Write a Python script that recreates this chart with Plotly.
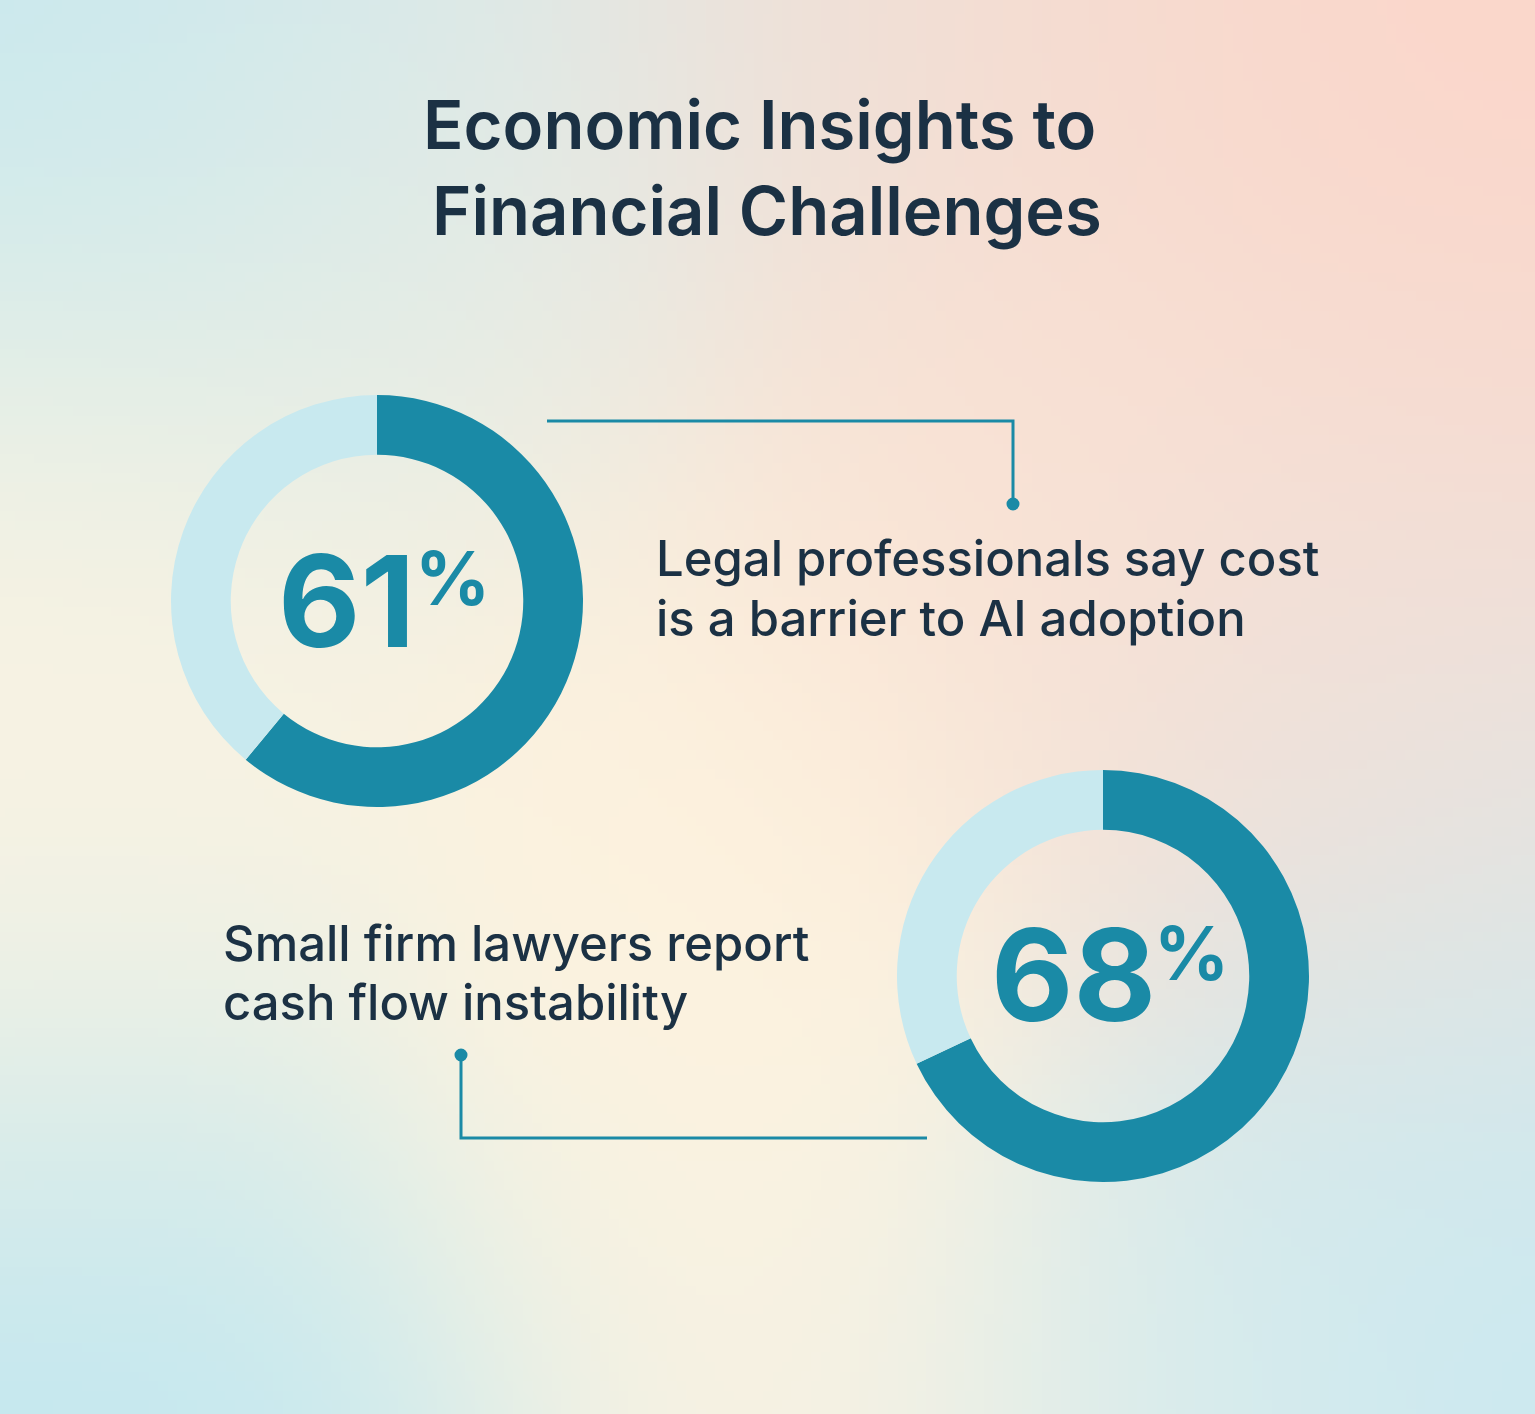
import base64
import struct
import zlib

import numpy as np
import plotly.graph_objects as go

W, H = 1535, 1414

# chart content
title_lines = ["Economic Insights to", "Financial Challenges"]
share_values = [61, 68]
share_labels = ["61", "68"]
caption_lines = [
    ["Legal professionals say cost", "is a barrier to AI adoption"],
    ["Small firm lawyers report", "cash flow instability"],
]

DARK = "#1a8aa6"
LIGHT = "#c8e9ef"
INK = "#1b3144"
FONT = "Inter"

# soft background blobs: (x px, y px, rgb)
bg_points = [
    (0, 0, (196, 233, 240)),
    (0, 250, (206, 234, 236)),
    (200, 0, (204, 233, 238)),
    (400, 0, (222, 234, 232)),
    (400, 300, (236, 238, 228)),
    (0, 480, (244, 242, 228)),
    (0, 650, (253, 244, 225)),
    (0, 820, (252, 244, 226)),
    (0, 1000, (242, 242, 230)),
    (0, 1200, (205, 233, 236)),
    (0, 1414, (186, 229, 242)),
    (250, 1414, (200, 234, 240)),
    (770, 1414, (250, 242, 226)),
    (600, 1100, (253, 244, 224)),
    (1200, 1414, (218, 236, 236)),
    (1535, 1414, (200, 233, 242)),
    (1535, 1100, (208, 233, 238)),
    (1535, 800, (232, 228, 224)),
    (1535, 400, (248, 219, 208)),
    (1535, 0, (252, 214, 202)),
    (1100, 0, (248, 218, 206)),
    (800, 0, (238, 226, 218)),
    (1000, 500, (250, 226, 212)),
    (700, 800, (253, 242, 222)),
    (1300, 700, (242, 224, 216)),
]


def png_uri(img):
    ny, nx, _ = img.shape
    raw = b"".join(b"\x00" + img[r].tobytes() for r in range(ny))

    def chunk(tag, data):
        body = tag + data
        return struct.pack(">I", len(data)) + body + struct.pack(">I", zlib.crc32(body) & 0xFFFFFFFF)

    png = (b"\x89PNG\r\n\x1a\n"
           + chunk(b"IHDR", struct.pack(">IIBBBBB", nx, ny, 8, 2, 0, 0, 0))
           + chunk(b"IDAT", zlib.compress(raw, 9))
           + chunk(b"IEND", b""))
    return "data:image/png;base64," + base64.b64encode(png).decode()


def background(nx=160, ny=148, sigma=300.0):
    xs = (np.arange(nx) + 0.5) * W / nx
    ys = (np.arange(ny) + 0.5) * H / ny
    X, Y = np.meshgrid(xs, ys)
    acc = np.zeros((ny, nx, 3))
    wsum = np.zeros((ny, nx))
    for px, py, c in bg_points:
        w = np.exp(-((X - px) ** 2 + (Y - py) ** 2) / sigma ** 2)
        acc += w[..., None] * np.array(c, dtype=float)
        wsum += w
    img = np.clip(acc / wsum[..., None], 0, 255).astype(np.uint8)
    return png_uri(img)


def px(x):
    return x / W


def py(y):
    return 1 - y / H


R = 206
centers = [(377, 601), (1103, 976)]

fig = go.Figure()
for (cx, cy), v in zip(centers, share_values):
    fig.add_trace(go.Pie(
        values=[v, 100 - v], hole=0.71, sort=False, direction="clockwise", rotation=0,
        marker=dict(colors=[DARK, LIGHT], line=dict(width=0)),
        textinfo="none", hoverinfo="skip", showlegend=False,
        domain=dict(x=[px(cx - R), px(cx + R)], y=[py(cy + R), py(cy - R)]),
    ))

ann = []


def text(x, y, s, size, weight, color=INK, anchor="left"):
    ann.append(dict(x=px(x), y=py(y), xref="paper", yref="paper", text=s, showarrow=False,
                    xanchor=anchor, yanchor="middle",
                    font=dict(family=FONT, size=size, weight=weight, color=color)))


# title
text(759, 124, title_lines[0], 67, 600, anchor="center")
text(767, 211, title_lines[1], 67, 600, anchor="center")

# big numbers
text(346, 601, share_labels[0], 127, 700, DARK, "center")
text(452, 578, "%", 74, 700, DARK, "center")
text(1073, 975, share_labels[1], 127, 700, DARK, "center")
text(1191, 953, "%", 74, 700, DARK, "center")

# captions
text(654, 559, caption_lines[0][0], 49, 500)
text(654, 618, caption_lines[0][1], 49, 500)
text(221, 943, caption_lines[1][0], 49, 500)
text(221, 1002, caption_lines[1][1], 49, 500)

shapes = [
    dict(type="path", xref="paper", yref="paper",
         path=f"M {px(547)},{py(421)} L {px(1013)},{py(421)} L {px(1013)},{py(503)}",
         line=dict(color=DARK, width=3)),
    dict(type="path", xref="paper", yref="paper",
         path=f"M {px(461)},{py(1055)} L {px(461)},{py(1138)} L {px(927)},{py(1138)}",
         line=dict(color=DARK, width=3)),
]
for dx, dy in [(1013, 504), (461, 1055)]:
    shapes.append(dict(type="circle", xref="paper", yref="paper",
                       x0=px(dx - 6.5), x1=px(dx + 6.5), y0=py(dy + 6.5), y1=py(dy - 6.5),
                       fillcolor=DARK, line=dict(width=0)))

fig.update_layout(
    width=W, height=H,
    margin=dict(l=0, r=0, t=0, b=0),
    paper_bgcolor="#f7efe3",
    plot_bgcolor="rgba(0,0,0,0)",
    xaxis=dict(visible=False), yaxis=dict(visible=False),
    annotations=ann, shapes=shapes,
    images=[dict(source=background(), xref="paper", yref="paper", x=0, y=1,
                 sizex=1, sizey=1, xanchor="left", yanchor="top",
                 sizing="stretch", layer="below")],
)

fig.write_html("out.html", config={"displayModeBar": False},
               post_script="document.body.style.margin='0';")
